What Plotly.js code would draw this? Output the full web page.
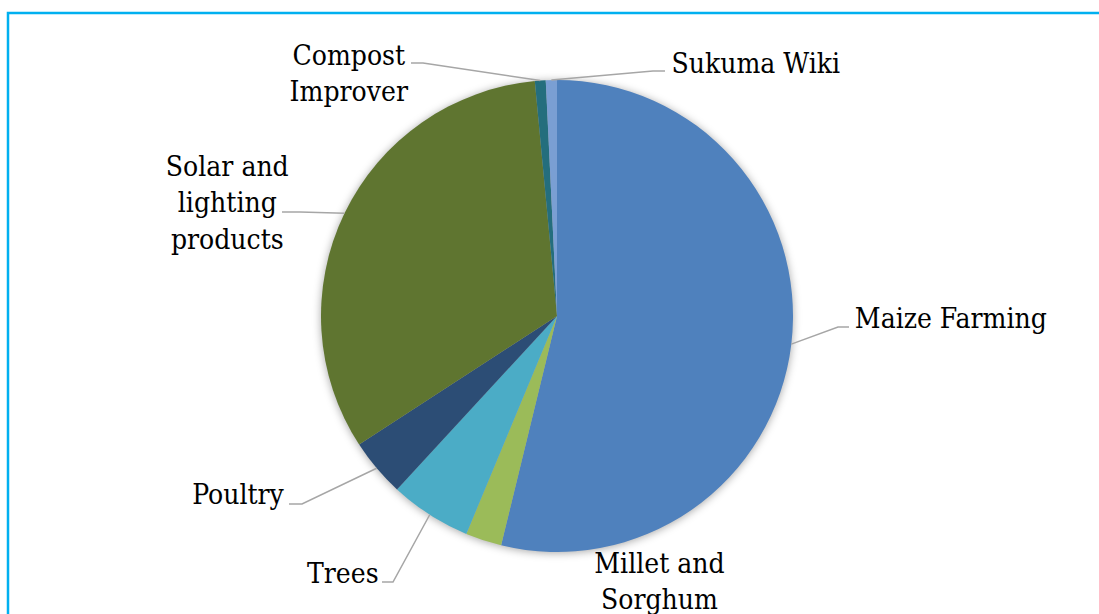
<!DOCTYPE html>
<html>
<head>
<meta charset="utf-8">
<script src="https://cdn.plot.ly/plotly-3.0.1.min.js"></script>
<style>
  html, body { margin: 0; padding: 0; background: #ffffff; }
  #chart { width: 1099px; height: 614px; }
  .annotation text { font-stretch: condensed; }
</style>
</head>
<body>
<div id="chart"></div>
<script>
// ---- data ----
const categories = ['Maize Farming', 'Millet and Sorghum', 'Trees', 'Poultry',
                    'Solar and lighting products', 'Compost Improver', 'Sukuma Wiki'];
const shares = [53.8, 2.47, 5.58, 3.97, 32.67, 0.74, 0.76];
const labelText = ['Maize Farming', 'Millet and<br>Sorghum', 'Trees', 'Poultry',
                   'Solar and<br>lighting<br>products', 'Compost<br>Improver', 'Sukuma Wiki'];

// ---- styling / placement (pixels in the 1099x614 figure) ----
const W = 1099, H = 614;
const FONT = 'DejaVu Serif';
const colors = ['#4F81BD', '#9BBB59', '#4BACC6', '#2C4D75', '#5F7530', '#246E7D', '#7A9FD3'];
const center = [557, 316], radius = 236;
const labelPos = [[951, 318], [659, 581], [343, 573], [238, 494], [227, 203], [349, 73], [756, 63]];
// elbow point and label-side end of each leader line (null = no leader)
const elbow = [[838, 327], null, [393, 582], [302, 504], [300, 212], [423, 63], [653, 71]];
const lineEnd = [[849, 327], null, [382, 582], [289, 504], [282, 212], [411, 63], [665, 71]];

const px = x => x / W;
const py = y => 1 - y / H;

const pie = {
  type: 'pie',
  labels: categories,
  values: shares,
  sort: false,
  direction: 'clockwise',
  rotation: 0,
  textinfo: 'none',
  hoverinfo: 'label+percent',
  marker: { colors: colors, line: { width: 0 } },
  domain: {
    x: [px(center[0] - radius), px(center[0] + radius)],
    y: [py(center[1] + radius), py(center[1] - radius)]
  },
  showlegend: false
};

// leader lines start at the middle of each slice, on the rim
const total = shares.reduce((a, b) => a + b, 0);
const shapes = [];
let cum = 0;
shares.forEach((v, i) => {
  const mid = (cum + v / 2) / total * 2 * Math.PI;
  cum += v;
  if (!elbow[i]) return;
  const sx = center[0] + radius * Math.sin(mid);
  const sy = center[1] - radius * Math.cos(mid);
  shapes.push({
    type: 'path', xref: 'paper', yref: 'paper',
    path: `M ${px(sx)},${py(sy)} L ${px(elbow[i][0])},${py(elbow[i][1])} L ${px(lineEnd[i][0])},${py(lineEnd[i][1])}`,
    line: { color: '#A6A6A6', width: 1.5 }
  });
});

// frame
shapes.push({
  type: 'rect', xref: 'paper', yref: 'paper',
  x0: px(8), x1: 1.02, y0: -0.02, y1: py(13),
  line: { color: '#00B0F0', width: 2.5 }, fillcolor: 'rgba(0,0,0,0)'
});

const annotations = labelText.map((t, i) => ({
  text: t, xref: 'paper', yref: 'paper',
  x: px(labelPos[i][0]), y: py(labelPos[i][1]),
  xanchor: 'center', yanchor: 'middle', align: 'center',
  showarrow: false,
  font: { family: FONT, size: 28, color: '#000000' }
}));

const layout = {
  width: W, height: H,
  margin: { l: 0, r: 0, t: 0, b: 0 },
  paper_bgcolor: '#ffffff',
  plot_bgcolor: '#ffffff',
  font: { family: FONT },
  shapes: shapes,
  annotations: annotations,
  showlegend: false
};

Plotly.newPlot('chart', [pie], layout, { displayModeBar: false, staticPlot: true }).then(() => {
  const pl = document.querySelector('.pielayer');
  if (pl) pl.style.filter = 'drop-shadow(0px 1px 4px rgba(0,0,0,0.35))';
  document.querySelectorAll('.annotation text').forEach(el => {
    el.style.fontStretch = 'condensed';
  });
});
</script>
</body>
</html>
